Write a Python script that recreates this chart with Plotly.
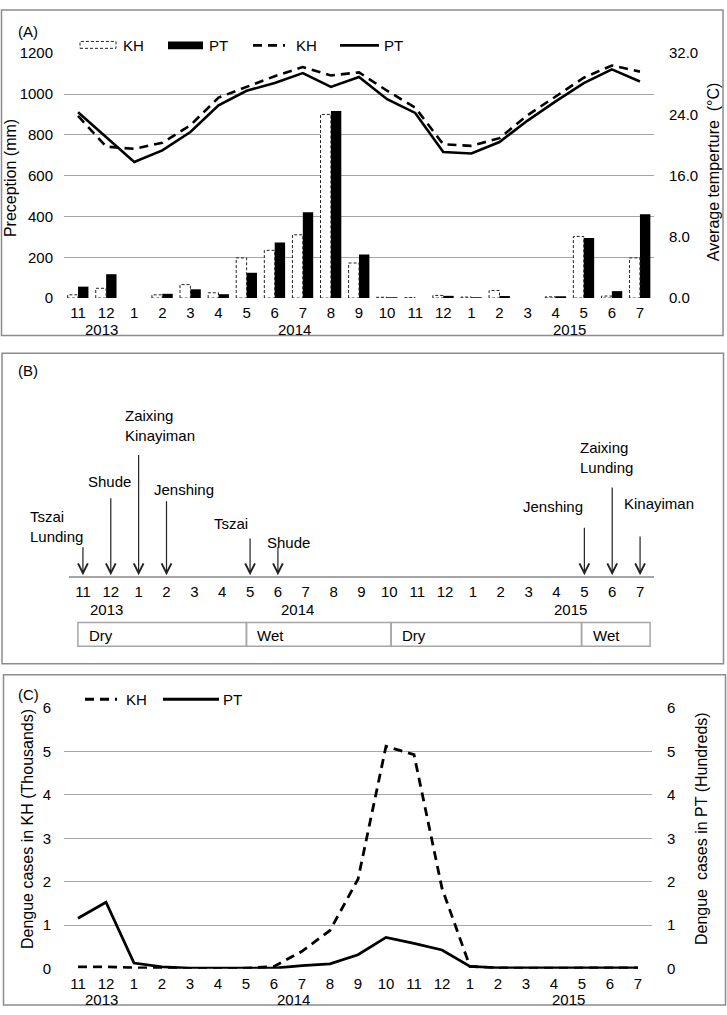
import plotly.graph_objects as go

W, H = 727, 1015

# ---------------- data ----------------
months = ["11", "12", "1", "2", "3", "4", "5", "6", "7", "8", "9", "10",
          "11", "12", "1", "2", "3", "4", "5", "6", "7"]
years = ["2013", "2014", "2015"]

rain_kh = [16, 48, 0, 16, 66, 26, 197, 234, 310, 900, 172, 4, 2, 13, 5, 37, 0, 6, 302, 10, 197]
rain_pt = [56, 117, 0, 21, 43, 19, 124, 273, 421, 917, 213, 1, 0, 11, 2, 10, 0, 6, 294, 34, 411]
temp_kh = [23.8, 19.8, 19.5, 20.3, 22.6, 26.2, 27.6, 29.0, 30.2, 29.1, 29.5, 27.1, 24.9,
           20.1, 19.9, 20.9, 23.9, 26.4, 28.8, 30.4, 29.6]
temp_pt = [24.3, 21.1, 17.8, 19.3, 21.7, 25.2, 27.1, 28.1, 29.4, 27.6, 28.9, 26.0, 24.2,
           19.1, 18.9, 20.4, 23.2, 25.7, 28.1, 29.9, 28.3]

dengue_kh = [0.04, 0.04, 0.02, 0.01, 0.0, 0.0, 0.01, 0.05, 0.40, 0.88, 2.06, 5.12, 4.93,
             1.85, 0.05, 0.02, 0.01, 0.01, 0.02, 0.02, 0.02]
dengue_pt = [1.16, 1.53, 0.13, 0.04, 0.01, 0.01, 0.01, 0.01, 0.07, 0.11, 0.32, 0.72, 0.58,
             0.43, 0.05, 0.02, 0.02, 0.02, 0.02, 0.02, 0.02]

event_month = [0, 1, 2, 3, 6, 7, 18, 19, 20]
event_label = ["Tszai<br>Lunding", "Shude", "Zaixing<br>Kinayiman", "Jenshing", "Tszai",
               "Shude", "Jenshing", "Zaixing<br>Lunding", "Kinayiman"]

season_names = ["Dry", "Wet", "Dry", "Wet"]
season_edges = [-0.18, 5.87, 11.06, 17.9, 20.36]

# ---------------- layout helpers (positions / styles) ----------------
FONT = "Liberation Sans, Arial, sans-serif"
GRID = "#a6a6a6"
BORDER = "#8c8c8c"
year_pos = [0.85, 7.7, 17.5]
arrow_top = [31, 81, 125, 78, 40, 31, 51, 92, 42]
label_y = [50.5, 96, 153, 88, 54, 34, 71, 121, 74]
label_dx = [-55, -25, -16, -14.5, -38, -13, -63, -34, -18]


def fx(x):
    return x / W


def fy(y):
    return 1 - y / H


idx = list(range(len(months)))
bw = 0.37

fig = go.Figure()

# ---------------- Panel A ----------------
fig.add_trace(go.Bar(x=idx, y=rain_kh, width=bw, offset=-bw, name="KH",
                     marker=dict(color="white", line=dict(width=0)),
                     xaxis="x", yaxis="y", showlegend=False))
fig.add_trace(go.Bar(x=idx, y=rain_pt, width=bw, offset=0, name="PT",
                     marker=dict(color="black", line=dict(width=0)),
                     xaxis="x", yaxis="y", showlegend=False))
ox, oy = [], []
for i, v in zip(idx, rain_kh):
    if v > 0:
        ox += [i - bw, i - bw, i, i, i - bw, None]
        oy += [0, v, v, 0, 0, None]
fig.add_trace(go.Scatter(x=ox, y=oy, mode="lines", line=dict(color="#222", width=1, dash="3px,2px"),
                         xaxis="x", yaxis="y", hoverinfo="skip", showlegend=False))
fig.add_trace(go.Scatter(x=idx, y=temp_kh, mode="lines", name="KH",
                         line=dict(color="black", width=2.6, dash="9px,6px"),
                         xaxis="x", yaxis="y2", showlegend=False))
fig.add_trace(go.Scatter(x=idx, y=temp_pt, mode="lines", name="PT",
                         line=dict(color="black", width=2.6),
                         xaxis="x", yaxis="y2", showlegend=False))

# ---------------- Panel B ----------------
fig.add_trace(go.Scatter(x=event_month, y=[0] * len(event_month), mode="markers",
                         marker=dict(opacity=0), xaxis="x3", yaxis="y3",
                         text=[t.replace("<br>", " ") for t in event_label],
                         hoverinfo="text", showlegend=False))

# ---------------- Panel C ----------------
fig.add_trace(go.Scatter(x=idx, y=dengue_kh, mode="lines", name="KH",
                         line=dict(color="black", width=2.8, dash="9px,6px"),
                         xaxis="x5", yaxis="y5", showlegend=False))
fig.add_trace(go.Scatter(x=idx, y=dengue_pt, mode="lines", name="PT",
                         line=dict(color="black", width=2.8),
                         xaxis="x5", yaxis="y6", showlegend=False))

tickfont = dict(family=FONT, size=15, color="black")
xcommon = dict(range=[-0.5, 20.5], tickmode="array", tickvals=idx, ticktext=months,
               showgrid=False, zeroline=False, ticks="", tickfont=tickfont, fixedrange=True)

fig.update_layout(
    width=W, height=H, margin=dict(l=0, r=0, t=0, b=0),
    paper_bgcolor="white", plot_bgcolor="rgba(0,0,0,0)",
    font=dict(family=FONT, size=15, color="black"),
    barmode="overlay", showlegend=False,
    xaxis=dict(domain=[fx(64), fx(654)], anchor="y", showline=False, ticklabelstandoff=4, **xcommon),
    yaxis=dict(domain=[fy(294), fy(45)], range=[0, 1200], dtick=200, showgrid=True,
               gridcolor=GRID, gridwidth=1, zeroline=False, showline=False, ticks="",
               tickfont=tickfont, ticklabelstandoff=10, fixedrange=True),
    yaxis2=dict(overlaying="y", side="right", anchor="x", range=[0, 32],
                tickvals=[0, 8, 16, 24, 32], tickformat=".1f", showgrid=False,
                zeroline=False, showline=False, ticks="", tickfont=tickfont,
                ticklabelstandoff=14, fixedrange=True),
    xaxis3=dict(domain=[fx(69), fx(654)], anchor="y3", showline=True, linecolor=GRID,
                linewidth=2, ticklabelstandoff=1, **xcommon),
    yaxis3=dict(domain=[fy(577), fy(400)], range=[0, 177], visible=False, fixedrange=True),
    xaxis5=dict(domain=[fx(64), fx(652)], anchor="y5", showline=False, ticklabelstandoff=4, **xcommon),
    yaxis5=dict(domain=[fy(976), fy(711)], range=[0, 6], dtick=1, showgrid=True,
                gridcolor=GRID, gridwidth=1, zeroline=False, showline=False, ticks="",
                tickfont=tickfont, ticklabelstandoff=12, fixedrange=True),
    yaxis6=dict(overlaying="y5", side="right", anchor="x5", range=[0, 6], dtick=1,
                showgrid=False, zeroline=False, showline=False, ticks="",
                tickfont=tickfont, ticklabelstandoff=14, fixedrange=True),
)

shapes = []
annotations = []

# panel borders
for (x0, y0, x1, y1) in [(1.5, 1, 723, 332), (2, 350, 723.5, 666), (3.5, 677, 725.5, 1013)]:
    shapes.append(dict(type="rect", xref="paper", yref="paper", x0=fx(x0), x1=fx(x1),
                       y0=fy(y1), y1=fy(y0), line=dict(color=BORDER, width=1.5)))

# panel letters
for lab, yc in [("(A)", 23), ("(B)", 368), ("(C)", 697)]:
    annotations.append(dict(text=lab, xref="paper", yref="paper", x=fx(16), y=fy(yc),
                            xanchor="left", yanchor="middle", showarrow=False,
                            font=dict(size=15)))

# year labels
for xr, yy in [("x", 326), ("x3", 611), ("x5", 1007)]:
    for yr, p in zip(years, year_pos):
        annotations.append(dict(text=yr, xref=xr, yref="paper", x=p, y=fy(yy),
                                xanchor="center", yanchor="middle", showarrow=False,
                                font=dict(size=15)))

# axis titles
annotations += [
    dict(text="Preception (mm)", xref="paper", yref="paper", x=fx(10), y=fy(172),
         textangle=-90, showarrow=False, xanchor="center", yanchor="middle", font=dict(size=16)),
    dict(text="Average temperture\u00a0 (°C)", xref="paper", yref="paper", x=fx(713), y=fy(166),
         textangle=-90, showarrow=False, xanchor="center", yanchor="middle", font=dict(size=16)),
    dict(text="Dengue cases in KH (Thousands)", xref="paper", yref="paper", x=fx(27), y=fy(834),
         textangle=-90, showarrow=False, xanchor="center", yanchor="middle", font=dict(size=16)),
    dict(text="Dengue\u00a0 cases in PT (Hundreds)", xref="paper", yref="paper", x=fx(701), y=fy(834),
         textangle=-90, showarrow=False, xanchor="center", yanchor="middle", font=dict(size=16)),
]

# legend panel A
shapes += [
    dict(type="rect", xref="paper", yref="paper", x0=fx(80), x1=fx(116), y0=fy(40), y1=fy(33),
         fillcolor="white", line=dict(color="#222", width=1, dash="3px,2px")),
    dict(type="rect", xref="paper", yref="paper", x0=fx(168), x1=fx(203), y0=fy(41), y1=fy(33),
         fillcolor="black", line=dict(color="black", width=0)),
    dict(type="line", xref="paper", yref="paper", x0=fx(253), x1=fx(285), y0=fy(37), y1=fy(37),
         line=dict(color="black", width=2.6, dash="9px,6px")),
    dict(type="line", xref="paper", yref="paper", x0=fx(340), x1=fx(379), y0=fy(37), y1=fy(37),
         line=dict(color="black", width=2.6)),
]
for t, xl in [("KH", 121), ("PT", 207), ("KH", 294), ("PT", 382)]:
    annotations.append(dict(text=t, xref="paper", yref="paper", x=fx(xl), y=fy(37),
                            xanchor="left", yanchor="middle", showarrow=False, font=dict(size=15)))

# legend panel C
shapes += [
    dict(type="line", xref="paper", yref="paper", x0=fx(85), x1=fx(117), y0=fy(702), y1=fy(702),
         line=dict(color="black", width=2.8, dash="9px,6px")),
    dict(type="line", xref="paper", yref="paper", x0=fx(163), x1=fx(219), y0=fy(702), y1=fy(702),
         line=dict(color="black", width=2.8)),
]
for t, xl in [("KH", 124), ("PT", 221)]:
    annotations.append(dict(text=t, xref="paper", yref="paper", x=fx(xl), y=fy(702),
                            xanchor="left", yanchor="middle", showarrow=False, font=dict(size=15)))

# panel B arrows and labels
for m, lab, top, ly, dx in zip(event_month, event_label, arrow_top, label_y, label_dx):
    annotations.append(dict(text="", x=m, y=1, ax=m, ay=top, xref="x3", yref="y3",
                            axref="x3", ayref="y3", showarrow=True, arrowhead=5,
                            arrowsize=1.6, arrowwidth=1.2, arrowcolor="#222"))
    annotations.append(dict(text=lab, x=m, y=ly, xref="x3", yref="y3", xanchor="left",
                            yanchor="middle", xshift=dx, align="left", showarrow=False,
                            font=dict(size=15)))

# seasons
for k, name in enumerate(season_names):
    shapes.append(dict(type="rect", xref="x3", yref="paper", x0=season_edges[k],
                       x1=season_edges[k + 1], y0=fy(648), y1=fy(624),
                       line=dict(color=GRID, width=1.5)))
    annotations.append(dict(text=name, xref="x3", yref="paper", x=season_edges[k], xshift=9,
                            y=fy(637), xanchor="left", yanchor="middle", showarrow=False,
                            font=dict(size=15)))

fig.update_layout(shapes=shapes, annotations=annotations)
fig.write_html("out.html", config={"displayModeBar": False},
               post_script="document.body.style.margin='0';document.body.style.overflow='hidden';")
